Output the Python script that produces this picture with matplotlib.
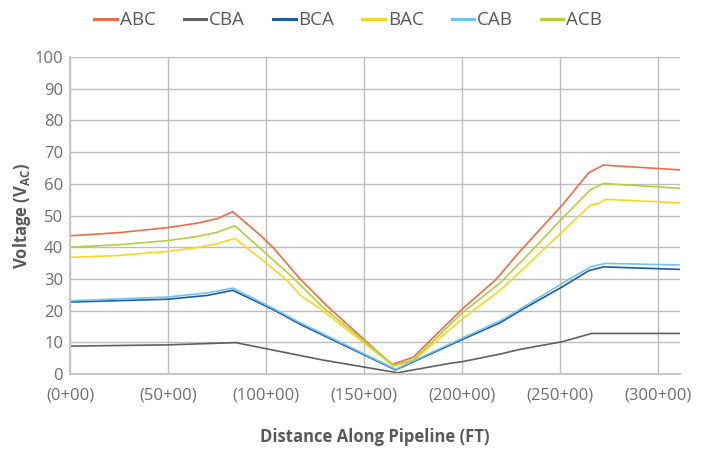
import matplotlib
matplotlib.use("Agg")
import matplotlib.pyplot as plt

series_names = ["ABC", "CBA", "BCA", "BAC", "CAB", "ACB"]
colors = ["#f26b44", "#5f6062", "#1f5aa6", "#f9d71c", "#6ec6f0", "#b5cf3a"]

abc_x = [0, 25, 50, 65, 75, 83, 97, 104, 117, 131, 164, 175, 200, 217, 230, 251, 264.5, 272, 311]
abc_y = [43.6, 44.6, 46.2, 47.6, 49.0, 51.2, 43.8, 39.6, 30.2, 21.5, 3.0, 5.3, 20.5, 29.7, 39.1, 53.3, 63.5, 65.9, 64.4]

cba_x = [0, 50, 84.5, 129, 167, 194, 200, 219.4, 229.6, 251, 266, 311]
cba_y = [8.8, 9.2, 9.9, 4.4, 0.4, 3.4, 3.9, 6.3, 7.8, 10.2, 12.8, 12.8]

bca_x = [0, 50, 70, 83, 104, 117, 166, 200, 219.4, 229.6, 251, 264.5, 272, 311]
bca_y = [22.7, 23.6, 24.8, 26.4, 20.2, 15.8, 1.3, 10.9, 16.2, 20.0, 27.5, 32.6, 33.8, 33.0]

bac_x = [0, 25, 50, 65, 75, 84, 97, 110.5, 117.3, 128.4, 165, 175, 200, 219.4, 229.6, 251, 265.3, 269.5, 273, 311]
bac_y = [36.8, 37.4, 38.7, 39.9, 41.1, 42.8, 36.5, 29.7, 24.9, 20.2, 2.5, 4.2, 17.4, 26.5, 32.3, 44.9, 53.3, 53.8, 55.1, 54.0]

cab_x = [0, 50, 70, 83, 104, 117, 166, 200, 219.4, 229.6, 251, 265.3, 273, 311]
cab_y = [23.1, 24.3, 25.6, 27.1, 20.6, 16.3, 1.5, 11.3, 16.8, 20.5, 28.6, 33.8, 34.9, 34.4]

acb_x = [0, 25, 50, 65, 75, 84, 97, 114, 129, 165, 175, 200, 219, 230, 251, 265.5, 272, 311]
acb_y = [40.0, 40.8, 42.1, 43.4, 44.7, 46.8, 39.6, 30.2, 21.0, 2.8, 4.4, 19.3, 28.6, 35.4, 49.1, 58.2, 60.1, 58.6]

x_ticks = [0, 50, 100, 150, 200, 250, 300]
x_tick_labels = ["(0+00)", "(50+00)", "(100+00)", "(150+00)", "(200+00)", "(250+00)", "(300+00)"]
y_ticks = [0, 10, 20, 30, 40, 50, 60, 70, 80, 90, 100]

data = [(abc_x, abc_y), (cba_x, cba_y), (bca_x, bca_y), (bac_x, bac_y), (cab_x, cab_y), (acb_x, acb_y)]

plt.rcParams['font.family'] = ['Open Sans', 'DejaVu Sans']

fig = plt.figure(figsize=(7.05, 4.49), dpi=100)
ax = fig.add_axes([0.0993, 0.167, 0.8652, 0.706])

for name, col, (xs, ys) in zip(series_names, colors, data):
    ax.plot(xs, ys, color=col, lw=1.2, label=name)

ax.set_xlim(0, 311)
ax.set_ylim(0, 100)
ax.set_xticks(x_ticks)
ax.set_xticklabels(x_tick_labels)
ax.set_yticks(y_ticks)
ax.grid(True, color="#bdbdbd", lw=1.0)
ax.set_axisbelow(True)
for s in ["top", "right"]:
    ax.spines[s].set_visible(False)
for s in ["left", "bottom"]:
    ax.spines[s].set_color("#c8c8c8")
    ax.spines[s].set_linewidth(1.5)
ax.tick_params(axis="both", length=0, labelsize=12, colors="#6d6e71")
ax.tick_params(axis="x", pad=10)
ax.tick_params(axis="y", pad=5)

ax.set_xlabel("Distance Along Pipeline (FT)", fontsize=12, fontweight="bold", color="#58595b", labelpad=17)
ax.set_ylabel("Voltage (V$_{\\mathregular{AC}}$)", fontsize=12, fontweight="bold", color="#58595b", labelpad=1)

leg = fig.legend(loc="upper center", bbox_to_anchor=(0.494, 1.012), ncol=6, frameon=False,
                 fontsize=13.5, handlelength=1.2, handletextpad=0.15, columnspacing=1.5)
for t in leg.get_texts():
    t.set_color("#58595b")
for h in leg.get_lines():
    h.set_linewidth(2.2)

fig.savefig("out.png", dpi=100)
